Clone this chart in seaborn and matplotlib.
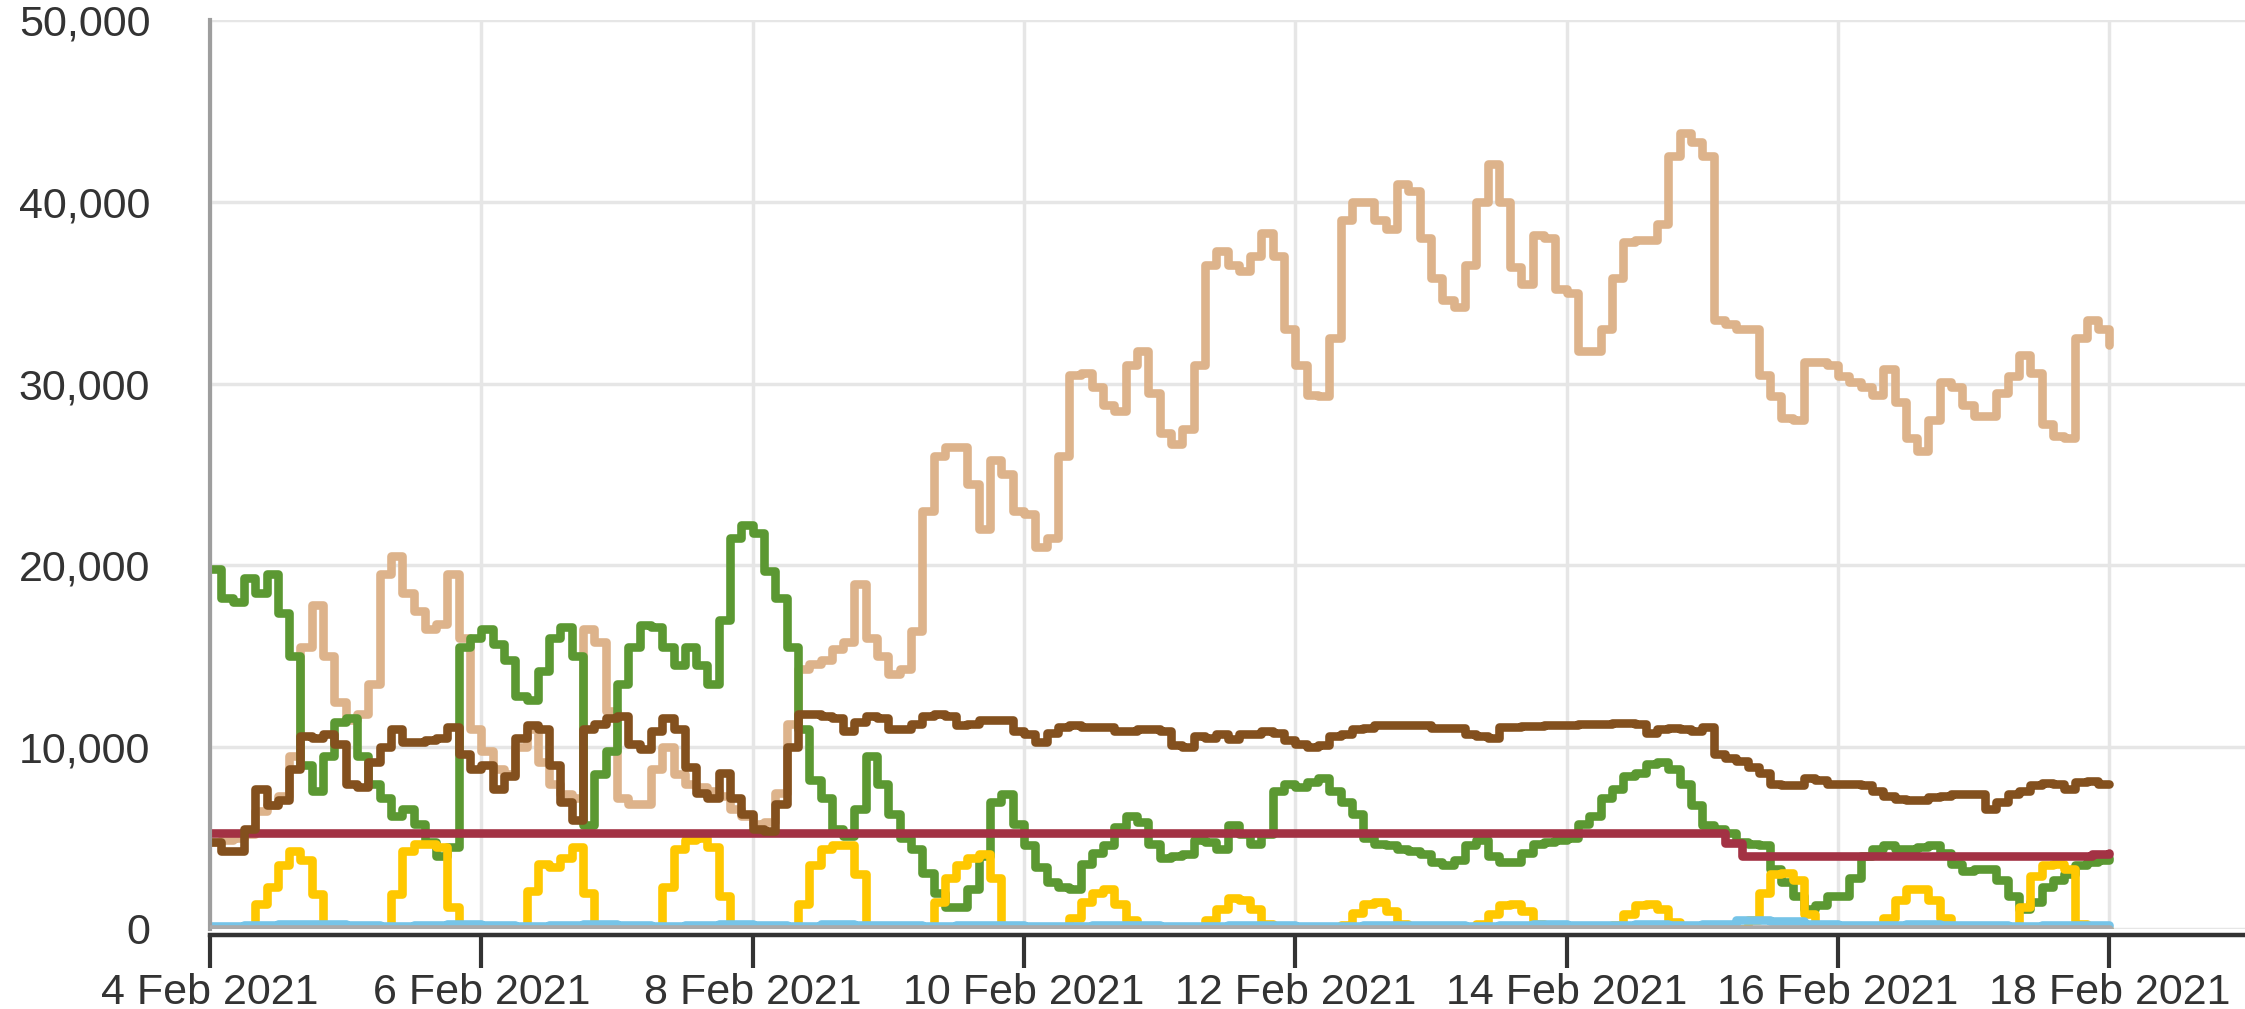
import numpy as np
import pandas as pd
import matplotlib
matplotlib.use("Agg")
import matplotlib.pyplot as plt
import matplotlib.dates as mdates
from matplotlib.ticker import StrMethodFormatter
import seaborn as sns

# ---------------- data (MW), 2-hourly from 4 Feb 2021 00:00 ----------------
start = "2021-02-04"

gas_mw = [
    4800, 4900, 5000, 5200, 6500, 6800, 7300, 9500, 15500, 17800, 15000, 12500,
    11500, 11800, 13500, 19500, 20500, 18500, 17500, 16500, 16800, 19500, 16000, 11000,
    9800, 8800, 8500, 10000, 11000, 9200, 8000, 7400, 7200, 16500, 15800, 12000,
    7200, 6900, 6900, 8800, 10000, 8500, 8000, 7800, 7600, 7300, 6600, 6200,
    5800, 5900, 7500, 11300, 14300, 14600, 14800, 15400, 15800, 19000, 16000, 15000,
    14000, 14300, 16400, 23000, 26000, 26500, 26500, 24500, 22000, 25800, 25000, 23000,
    22800, 21000, 21500, 26000, 30500, 30600, 29800, 28800, 28500, 31000, 31800, 29500,
    27300, 26700, 27500, 31000, 36500, 37300, 36500, 36200, 37000, 38300, 37000, 33000,
    31000, 29400, 29300, 32500, 39000, 40000, 40000, 39000, 38500, 41000, 40600, 38000,
    35800, 34600, 34200, 36500, 40000, 42100, 40000, 36400, 35500, 38200, 38000, 35200,
    35000, 31800, 31800, 33000, 35800, 37800, 37900, 37900, 38800, 42500, 43800, 43300,
    42500, 33500, 33300, 33000, 33000, 30500, 29300, 28100, 28000, 31200, 31200, 31000,
    30400, 30100, 29800, 29400, 30800, 29000, 27000, 26300, 28000, 30100, 29800, 28800,
    28200, 28200, 29500, 30400, 31600, 30600, 27800, 27100, 27000, 32500, 33500, 33000,
    32100,
]

wind_mw = [
    19800, 18200, 18000, 19300, 18500, 19500, 17400, 15000, 9000, 7600, 9500, 11400,
    11600, 9500, 8000, 7200, 6200, 6600, 5800, 4800, 4000, 4500, 15500, 16000,
    16500, 15700, 14800, 12800, 12600, 14200, 16000, 16600, 15000, 5700, 8500, 9800,
    13500, 15500, 16700, 16600, 15500, 14500, 15500, 14500, 13500, 17000, 21500, 22200,
    21800, 19700, 18200, 15500, 11000, 8200, 7200, 5500, 5100, 6600, 9500, 8000,
    6300, 5000, 4400, 3100, 2000, 1200, 1200, 2200, 4000, 7000, 7400, 5800,
    4600, 3400, 2600, 2300, 2200, 3600, 4200, 4600, 5600, 6200, 5900, 4700,
    3900, 4000, 4100, 4900, 4800, 4400, 5700, 5200, 4700, 5200, 7600, 8000,
    7800, 8100, 8300, 7600, 7000, 6300, 5000, 4700, 4600, 4400, 4300, 4100,
    3700, 3500, 3800, 4600, 4900, 4000, 3700, 3700, 4200, 4700, 4800, 4900,
    5000, 5800, 6200, 7200, 7700, 8400, 8600, 9100, 9200, 8800, 8000, 6800,
    5700, 5500, 5300, 4800, 4700, 4600, 3300, 2600, 1800, 1100, 1300, 1800,
    1800, 2800, 4000, 4400, 4600, 4400, 4400, 4500, 4600, 4200, 3600, 3200,
    3300, 3300, 2700, 1800, 1100, 1500, 2300, 2700, 3000, 3500, 3700, 3800,
    3900,
]

brown_mw = [
    4800, 4300, 4300, 5500, 7700, 6800, 7100, 8800, 10600, 10500, 10700, 10200,
    8000, 7800, 9200, 10000, 11000, 10300, 10300, 10400, 10500, 11100, 9600, 8800,
    9000, 7700, 8400, 10500, 11200, 11000, 9000, 7000, 6000, 11000, 11300, 11600,
    11700, 10200, 9900, 10900, 11600, 11000, 8900, 7500, 7200, 8600, 7200, 6300,
    5500, 5400, 6900, 10000, 11800, 11800, 11700, 11600, 10900, 11400, 11700, 11600,
    11000, 11000, 11300, 11700, 11800, 11700, 11200, 11300, 11500, 11500, 11500, 10900,
    10700, 10300, 10800, 11100, 11200, 11100, 11100, 11100, 10900, 10900, 11000, 11000,
    10900, 10100, 10000, 10600, 10500, 10700, 10450, 10700, 10750, 10900, 10800, 10400,
    10200, 10000, 10100, 10600, 10750, 11000, 11050, 11200, 11200, 11200, 11200, 11200,
    11050, 11050, 11050, 10700, 10600, 10500, 11100, 11100, 11150, 11150, 11200, 11200,
    11200, 11250, 11300, 11300, 11350, 11350, 11300, 10800, 11000, 11050, 11000, 10900,
    11100, 9600, 9400, 9250, 8900, 8600, 7950, 7900, 7900, 8300, 8200, 8000,
    8000, 8000, 7900, 7600, 7300, 7150, 7100, 7100, 7250, 7300, 7400, 7450,
    7400, 6600, 7000, 7400, 7600, 7900, 8050, 8000, 7700, 8100, 8150, 8000,
    7950,
]

solar_mw = [
    0, 0, 0, 0, 1400, 2300, 3500, 4300, 3800, 1900, 0, 0,
    0, 0, 0, 0, 1900, 4300, 4700, 4700, 4500, 1200, 0, 0,
    0, 0, 0, 0, 2100, 3600, 3400, 3900, 4500, 2000, 0, 0,
    0, 0, 0, 0, 2300, 4400, 4900, 5000, 4500, 1800, 0, 0,
    0, 0, 0, 0, 1400, 3500, 4400, 4600, 4600, 3000, 0, 0,
    0, 0, 0, 0, 1500, 2800, 3500, 3900, 4100, 2800, 0, 0,
    0, 0, 0, 0, 600, 1500, 2000, 2200, 1400, 500, 0, 0,
    0, 0, 0, 0, 500, 1100, 1700, 1600, 1100, 300, 0, 0,
    0, 0, 0, 0, 200, 900, 1400, 1500, 1000, 300, 0, 0,
    0, 0, 0, 0, 300, 800, 1300, 1400, 1000, 300, 0, 0,
    0, 0, 0, 0, 200, 800, 1300, 1400, 1100, 400, 0, 0,
    0, 0, 0, 0, 500, 2000, 3000, 3100, 2700, 800, 0, 0,
    0, 0, 0, 0, 600, 1600, 2200, 2200, 1600, 600, 0, 0,
    0, 0, 0, 0, 1200, 2900, 3500, 3600, 3300, 300, 0, 0,
    0,
]

# 6-hourly small series
blue_mw = [
    150, 200, 250, 300, 200, 150, 200, 250, 200, 150, 200, 250,
    200, 150, 200, 250, 200, 150, 250, 200, 200, 150, 200, 200,
    150, 150, 200, 200, 150, 150, 200, 200, 150, 150, 200, 200,
    200, 150, 200, 250, 200, 200, 250, 200, 250, 500, 450, 250,
    200, 200, 250, 200, 200, 150, 200, 200, 150,
]

# change points (hours after start) for the nuclear-like series
red_hours = [0, 268, 271, 333, 336]
red_mw = [5300, 4750, 4000, 4100, 4200]

grey_hours = [0, 336]
grey_mw = [0, 0]

colors = {
    "Gas": "#DDB38B",
    "Wind": "#5B9832",
    "Biomass": "#83501E",
    "Nuclear": "#A33244",
    "Solar": "#FFC800",
    "Hydro": "#76C4E8",
    "Other": "#AAAAAA",
}

t2 = pd.date_range(start, periods=len(gas_mw), freq="2h")
t6 = pd.date_range(start, periods=len(blue_mw), freq="6h")
t0 = pd.Timestamp(start)

frames = [
    pd.DataFrame({"time": t2, "mw": gas_mw, "source": "Gas"}),
    pd.DataFrame({"time": t2, "mw": wind_mw, "source": "Wind"}),
    pd.DataFrame({"time": t2, "mw": brown_mw, "source": "Biomass"}),
    pd.DataFrame({"time": [t0 + pd.Timedelta(hours=h) for h in red_hours], "mw": red_mw, "source": "Nuclear"}),
    pd.DataFrame({"time": t2, "mw": solar_mw, "source": "Solar"}),
    pd.DataFrame({"time": t6, "mw": blue_mw, "source": "Hydro"}),
]
df = pd.concat(frames, ignore_index=True)
grey_df = pd.DataFrame({"time": [t0 + pd.Timedelta(hours=h) for h in grey_hours], "mw": grey_mw, "source": "Other"})

# ---------------- styling ----------------
sns.set_style("white")
plt.rcParams["font.family"] = ["Liberation Sans", "DejaVu Sans"]

W, H, DPI = 2245, 1009, 100
fig = plt.figure(figsize=(W / DPI, H / DPI), dpi=DPI)
ax = fig.add_axes([210 / W, (H - 929) / H, (W - 210) / W, (929 - 20) / H])

draw_order = ["Gas", "Wind", "Solar", "Nuclear", "Biomass", "Hydro"]
sns.lineplot(data=df, x="time", y="mw", hue="source", hue_order=draw_order,
             palette=colors, estimator=None, drawstyle="steps-post",
             legend=False, ax=ax, zorder=2)
sns.lineplot(data=grey_df, x="time", y="mw", color=colors["Other"],
             estimator=None, legend=False, ax=ax, zorder=3,
             drawstyle="steps-post")
for ln in ax.lines:
    ln.set_linewidth(6.2)
    ln.set_solid_joinstyle("round")
    ln.set_solid_capstyle("round")

ax.set_xlim(pd.Timestamp("2021-02-04"), pd.Timestamp("2021-02-19"))
ax.set_ylim(0, 50000)
ax.set_yticks(np.arange(0, 50001, 10000))
ax.yaxis.set_major_formatter(StrMethodFormatter("{x:,.0f}"))
ax.set_xticks(pd.date_range("2021-02-04", "2021-02-18", freq="2D"))
ax.xaxis.set_major_formatter(mdates.DateFormatter("%-d %b %Y"))

ax.grid(True, color="#E6E6E6", linewidth=2.5)
ax.set_axisbelow(True)
ax.set_xlabel("")
ax.set_ylabel("")

for side in ["top", "right"]:
    ax.spines[side].set_visible(False)
ax.spines["left"].set_color("#9E9E9E")
ax.spines["left"].set_linewidth(3)
ax.spines["bottom"].set_color("#333333")
ax.spines["bottom"].set_linewidth(3.2)
ax.spines["bottom"].set_position(("outward", 4))
ax.spines["bottom"].set_zorder(2.5)

ax.tick_params(axis="y", length=0, pad=43, labelsize=31, labelcolor="#333333")
ax.tick_params(axis="x", length=24, width=3, color="#333333", pad=4,
               labelsize=31, labelcolor="#333333", direction="out", bottom=True)

fig.savefig("out.png", dpi=DPI)
